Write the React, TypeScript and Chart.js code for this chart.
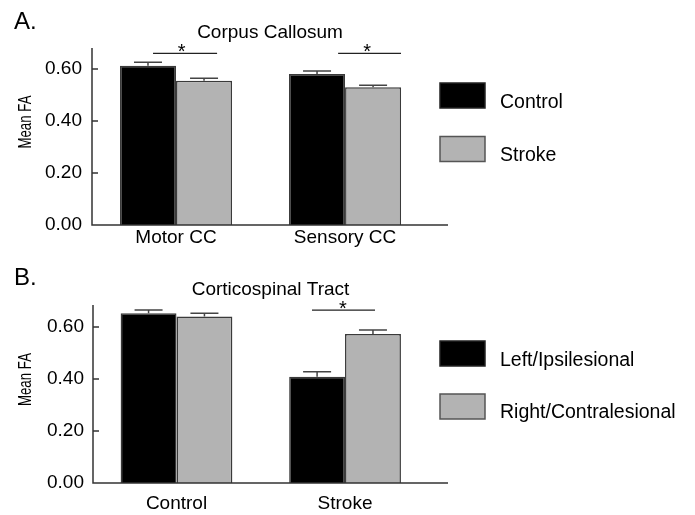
import React, { useEffect, useRef } from 'react';
import { Chart, registerables } from 'chart.js';

Chart.register(...registerables);

const FONT = "'Liberation Sans', Arial, Helvetica, sans-serif";

// ---------- Panel A: Corpus Callosum ----------
const categoriesA = ['Motor CC', 'Sensory CC'];
const controlMeans = [0.613, 0.581];
const controlSE = [0.013, 0.011];
const strokeMeans = [0.555, 0.530];
const strokeSE = [0.009, 0.008];
const legendA = ['Control', 'Stroke'];

// ---------- Panel B: Corticospinal Tract ----------
const categoriesB = ['Control', 'Stroke'];
const leftMeans = [0.653, 0.409];
const leftSE = [0.012, 0.019];
const rightMeans = [0.640, 0.573];
const rightSE = [0.013, 0.015];
const legendB = ['Left/Ipsilesional', 'Right/Contralesional'];

const yTickValues = [0, 0.2, 0.4, 0.6];

// significance brackets (category index, bracket extent offsets, star offset, bracket level)
const sigA = [
  { cat: 0, from: -0.136, to: 0.243, star: 0.034, level: 0.660 },
  { cat: 1, from: -0.041, to: 0.331, star: 0.130, level: 0.660 },
];
const sigB = [{ cat: 1, from: -0.196, to: 0.178, star: -0.012, level: 0.665 }];

const BLACK = '#000000';
const GRAY = '#b3b3b3';
const EDGE = '#3a3a3a';
const AXIS = '#333333';

const panelA = {
  letter: 'A.',
  title: 'Corpus Callosum',
  cats: categoriesA,
  series: [controlMeans, strokeMeans],
  errors: [controlSE, strokeSE],
  legend: legendA,
  sig: sigA,
  top: 0,
  height: 250,
  yMax: 0.6808,
  xMin: -0.497,
  xMax: 1.609,
  axisWidth: 92,
  titlePadTop: 21.6,
  titlePadBottom: 3.6,
  xAxisHeight: 25,
  xTickPad: 1,
  yTickPad: 10,
  letterBaseline: 29,
  yTitleY: 122,
  legendBoxTops: [83, 136.5],
  legendBaselines: [107.5, 161],
};

const panelB = {
  letter: 'B.',
  title: 'Corticospinal Tract',
  cats: categoriesB,
  series: [leftMeans, rightMeans],
  errors: [leftSE, rightSE],
  legend: legendB,
  sig: sigB,
  top: 250,
  height: 265,
  yMax: 0.6846,
  xMin: -0.4955,
  xMax: 1.611,
  axisWidth: 93,
  titlePadTop: 28.6,
  titlePadBottom: 3.6,
  xAxisHeight: 32,
  xTickPad: 9.6,
  yTickPad: 9,
  letterBaseline: 35,
  yTitleY: 129.5,
  legendBoxTops: [91, 144],
  legendBaselines: [116, 167.5],
};

function makeAnnotations(p: any) {
  return {
    id: 'annot' + p.letter,
    afterDraw(chart: any) {
      const ctx = chart.ctx as CanvasRenderingContext2D;
      const { left, right, top, bottom } = chart.chartArea;
      const xs = chart.scales.x;
      const ys = chart.scales.y;
      ctx.save();

      // axes lines
      ctx.strokeStyle = AXIS;
      ctx.lineWidth = 1.5;
      ctx.beginPath();
      ctx.moveTo(left, top);
      ctx.lineTo(left, bottom);
      ctx.lineTo(right, bottom);
      ctx.stroke();

      // inward tick marks
      ctx.beginPath();
      yTickValues.forEach((v) => {
        if (v === 0) return;
        const y = ys.getPixelForValue(v);
        ctx.moveTo(left, y);
        ctx.lineTo(left + 6, y);
      });
      ctx.stroke();

      // error bars (upper only)
      ctx.strokeStyle = '#444444';
      ctx.lineWidth = 1.5;
      p.errors.forEach((se: number[], di: number) => {
        const meta = chart.getDatasetMeta(di);
        meta.data.forEach((bar: any, i: number) => {
          const v = p.series[di][i];
          const yTop = ys.getPixelForValue(v + se[i]);
          const yBar = ys.getPixelForValue(v);
          ctx.beginPath();
          ctx.moveTo(bar.x, yBar);
          ctx.lineTo(bar.x, yTop);
          ctx.moveTo(bar.x - 14, yTop);
          ctx.lineTo(bar.x + 14, yTop);
          ctx.stroke();
        });
      });

      // significance brackets
      ctx.strokeStyle = '#222222';
      ctx.lineWidth = 1.3;
      ctx.fillStyle = '#000';
      ctx.font = `20px ${FONT}`;
      ctx.textAlign = 'center';
      ctx.textBaseline = 'middle';
      p.sig.forEach((s: any) => {
        const y = ys.getPixelForValue(s.level);
        ctx.beginPath();
        ctx.moveTo(xs.getPixelForValue(s.cat + s.from), y);
        ctx.lineTo(xs.getPixelForValue(s.cat + s.to), y);
        ctx.stroke();
        ctx.fillText('*', xs.getPixelForValue(s.cat + s.star), y - 1);
      });

      // panel letter
      ctx.textAlign = 'left';
      ctx.textBaseline = 'alphabetic';
      ctx.font = `24px ${FONT}`;
      ctx.fillText(p.letter, 14, p.letterBaseline);

      // y axis title (condensed)
      ctx.save();
      ctx.translate(26, p.yTitleY);
      ctx.rotate(-Math.PI / 2);
      ctx.scale(0.7, 1);
      ctx.font = `19px ${FONT}`;
      ctx.textAlign = 'center';
      ctx.textBaseline = 'middle';
      ctx.fillText('Mean FA', 0, 0);
      ctx.restore();

      // legend
      const colors = [BLACK, GRAY];
      p.legend.forEach((label: string, i: number) => {
        const bt = p.legendBoxTops[i];
        ctx.fillStyle = colors[i];
        ctx.fillRect(440, bt, 45, 25);
        ctx.strokeStyle = i === 0 ? '#222222' : '#555555';
        ctx.lineWidth = 1.5;
        ctx.strokeRect(440, bt, 45, 25);
        ctx.fillStyle = '#000';
        ctx.font = `19.5px ${FONT}`;
        ctx.textAlign = 'left';
        ctx.textBaseline = 'alphabetic';
        ctx.fillText(label, 500, p.legendBaselines[i]);
      });

      ctx.restore();
    },
  };
}

function Panel({ p }: { p: any }) {
  const ref = useRef<HTMLCanvasElement | null>(null);
  useEffect(() => {
    if (!ref.current) return;
    const colors = [BLACK, GRAY];
    const chart = new Chart(ref.current, {
      type: 'bar',
      data: {
        datasets: p.series.map((vals: number[], di: number) => ({
          label: p.legend[di],
          data: vals.map((y: number, i: number) => ({ x: i, y })),
          backgroundColor: colors[di],
          borderColor: EDGE,
          borderWidth: 1.5,
          categoryPercentage: 0.663,
          barPercentage: 1,
        })),
      },
      options: {
        responsive: false,
        animation: false,
        devicePixelRatio: 1,
        layout: { padding: { left: 0, right: 695 - 448, top: 0, bottom: 0 } },
        plugins: {
          legend: { display: false },
          tooltip: { enabled: false },
          title: {
            display: true,
            text: p.title,
            position: 'top',
            fullSize: false,
            color: '#000',
            font: { family: FONT, size: 19, weight: 'normal' },
            padding: { top: p.titlePadTop, bottom: p.titlePadBottom },
          },
        },
        scales: {
          x: {
            type: 'linear',
            min: p.xMin,
            max: p.xMax,
            offset: false,
            bounds: 'data',
            grid: { display: false, drawTicks: false, tickLength: 0, offset: false },
            border: { display: false },
            afterBuildTicks: (s: any) => {
              s.ticks = p.cats.map((_: string, i: number) => ({ value: i }));
            },
            afterFit: (s: any) => {
              s.height = p.xAxisHeight;
            },
            ticks: {
              padding: p.xTickPad,
              color: '#000',
              autoSkip: false,
              maxRotation: 0,
              font: { family: FONT, size: 19 },
              callback: (v: any) => p.cats[Math.round(Number(v))] ?? '',
            },
          },
          y: {
            type: 'linear',
            min: 0,
            max: p.yMax,
            bounds: 'data',
            grid: { display: false, drawTicks: false, tickLength: 0 },
            border: { display: false },
            afterBuildTicks: (s: any) => {
              s.ticks = yTickValues.map((v) => ({ value: v }));
            },
            afterFit: (s: any) => {
              s.width = p.axisWidth;
            },
            ticks: {
              padding: p.yTickPad,
              color: '#000',
              font: { family: FONT, size: 19 },
              callback: (v: any) => Number(v).toFixed(2),
            },
          },
        },
      } as any,
      plugins: [makeAnnotations(p)],
    });
    return () => chart.destroy();
  }, []);
  return (
    <canvas
      ref={ref}
      width={695}
      height={p.height}
      style={{ position: 'absolute', left: 0, top: p.top, width: 695, height: p.height }}
    />
  );
}

export default function App() {
  return (
    <div style={{ position: 'absolute', left: 0, top: 0, width: 695, height: 515, background: '#ffffff' }}>
      <Panel p={panelA} />
      <Panel p={panelB} />
    </div>
  );
}
